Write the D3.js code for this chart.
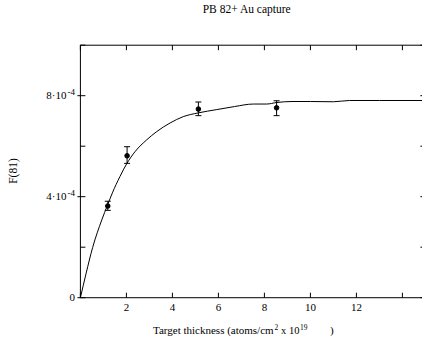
<!DOCTYPE html>
<html>
<head>
<meta charset="utf-8">
<script src="https://cdnjs.cloudflare.com/ajax/libs/d3/7.8.5/d3.min.js"></script>
<style>
  body { margin: 0; background: #fff; }
  svg text { font-family: "Liberation Serif", "Times New Roman", serif; fill: #000; }
</style>
</head>
<body>
<div id="chart"></div>
<script>
// thickness in 1e19 atoms/cm2, F(81) in units of 1e-4
var curveX = [0, 0.25, 0.53, 0.93, 1.18, 1.39, 1.72, 2.01, 2.39, 2.88, 3.32, 3.9, 4.47, 5.13, 5.93, 6.7, 7.52, 8.1, 8.53, 9.2, 10.0, 11.0, 11.7, 13, 15];
var curveY = [0, 0.97, 1.98, 3.08, 3.67, 4.15, 4.8, 5.3, 5.8, 6.25, 6.58, 6.92, 7.17, 7.32, 7.45, 7.57, 7.67, 7.67, 7.73, 7.77, 7.77, 7.76, 7.81, 7.81, 7.81];

var pointX = [1.19, 2.03, 5.13, 8.53];
var pointY = [3.63, 5.62, 7.47, 7.52];
var errLo = [3.46, 5.32, 7.21, 7.21];
var errHi = [3.82, 5.98, 7.75, 7.80];

var xTicks = [0, 2, 4, 6, 8, 10, 12, 14];
var xLabels = ["", "2", "4", "6", "8", "10", "12", ""];
var yTicks = [0, 2, 4, 6, 8, 10];
var yLabels = {0: "0", 4: "4", 8: "8"};

var width = 422;
var height = 343;
var plotLeft = 80.4;
var plotTop = 45.2;
var plotBottom = 297.7;

var svg = d3.select("#chart")
  .append("svg")
  .attr("width", width)
  .attr("height", height);

var xScale = d3.scaleLinear().domain([0, 15]).range([plotLeft, plotLeft + 345]);
var yScale = d3.scaleLinear().domain([0, 10]).range([plotBottom, plotTop]);
var plotRight = xScale(15);

// title
svg.append("text")
  .attr("x", 246.7)
  .attr("y", 12.5)
  .attr("text-anchor", "middle")
  .attr("font-size", 11.5)
  .text("PB 82+ Au capture");

// frame
svg.append("rect")
  .attr("x", plotLeft)
  .attr("y", plotTop)
  .attr("width", plotRight - plotLeft)
  .attr("height", plotBottom - plotTop)
  .attr("fill", "none")
  .attr("stroke", "#000")
  .attr("stroke-width", 1);

// x ticks, bottom and top, pointing inward
var xt = svg.append("g").attr("stroke", "#000").attr("stroke-width", 1);
xTicks.forEach(function(t) {
  var x = xScale(t);
  xt.append("line").attr("x1", x).attr("x2", x).attr("y1", plotBottom).attr("y2", plotBottom - 5);
  xt.append("line").attr("x1", x).attr("x2", x).attr("y1", plotTop).attr("y2", plotTop + 5);
});
svg.append("g")
  .selectAll("text")
  .data(xTicks)
  .enter()
  .append("text")
  .attr("x", function(d) { return xScale(d); })
  .attr("y", 310.5)
  .attr("text-anchor", "middle")
  .attr("font-size", 11)
  .text(function(d, i) { return xLabels[i]; });

// y ticks, left and right
var yt = svg.append("g").attr("stroke", "#000").attr("stroke-width", 1);
yTicks.forEach(function(t) {
  var y = yScale(t);
  var major = yLabels[t] !== undefined;
  yt.append("line").attr("x1", major ? plotLeft - 3 : plotLeft).attr("x2", plotLeft + 5).attr("y1", y).attr("y2", y);
  yt.append("line").attr("x1", plotRight).attr("x2", plotRight - 5).attr("y1", y).attr("y2", y);
});
yTicks.forEach(function(t) {
  if (yLabels[t] === undefined) return;
  var txt = svg.append("text")
    .attr("x", plotLeft - 5.5)
    .attr("y", yScale(t) + 3.6)
    .attr("text-anchor", "end")
    .attr("font-size", 11);
  if (t === 0) {
    txt.text("0");
  } else {
    txt.append("tspan").text(yLabels[t] + "\u00b710");
    txt.append("tspan").attr("dy", -4.5).attr("dx", 1).attr("font-size", 9).text("-4");
  }
});

// axis titles
svg.append("text")
  .attr("transform", "translate(16.5,171)rotate(-90)")
  .attr("text-anchor", "middle")
  .attr("font-size", 11.5)
  .text("F(81)");

var xl = svg.append("text")
  .attr("x", 153)
  .attr("y", 334)
  .attr("font-size", 11);
xl.append("tspan").text("Target thickness (atoms/cm");
xl.append("tspan").attr("dy", -4.5).attr("dx", 1).attr("font-size", 7.5).text("2");
xl.append("tspan").attr("x", 281).attr("dy", 4.5).attr("font-size", 10.5).text("x 10");
xl.append("tspan").attr("dy", -4.5).attr("dx", 0.5).attr("font-size", 7.5).text("19");
xl.append("tspan").attr("x", 330).attr("dy", 4.5).text(")");

// fitted curve
var line = d3.line()
  .curve(d3.curveMonotoneX)
  .x(function(d) { return xScale(d[0]); })
  .y(function(d) { return yScale(d[1]); });
svg.append("path")
  .datum(d3.zip(curveX, curveY))
  .attr("d", line)
  .attr("fill", "none")
  .attr("stroke", "#000")
  .attr("stroke-width", 1);

// measured points with error bars
var pts = svg.append("g").attr("stroke", "#000").attr("stroke-width", 1);
pointX.forEach(function(px, i) {
  var x = xScale(px);
  pts.append("line").attr("x1", x).attr("x2", x).attr("y1", yScale(errLo[i])).attr("y2", yScale(errHi[i]));
  pts.append("line").attr("x1", x - 3).attr("x2", x + 3).attr("y1", yScale(errLo[i])).attr("y2", yScale(errLo[i]));
  pts.append("line").attr("x1", x - 3).attr("x2", x + 3).attr("y1", yScale(errHi[i])).attr("y2", yScale(errHi[i]));
  pts.append("circle").attr("cx", x).attr("cy", yScale(pointY[i])).attr("r", 2.3).attr("fill", "#000");
});
</script>
</body>
</html>
